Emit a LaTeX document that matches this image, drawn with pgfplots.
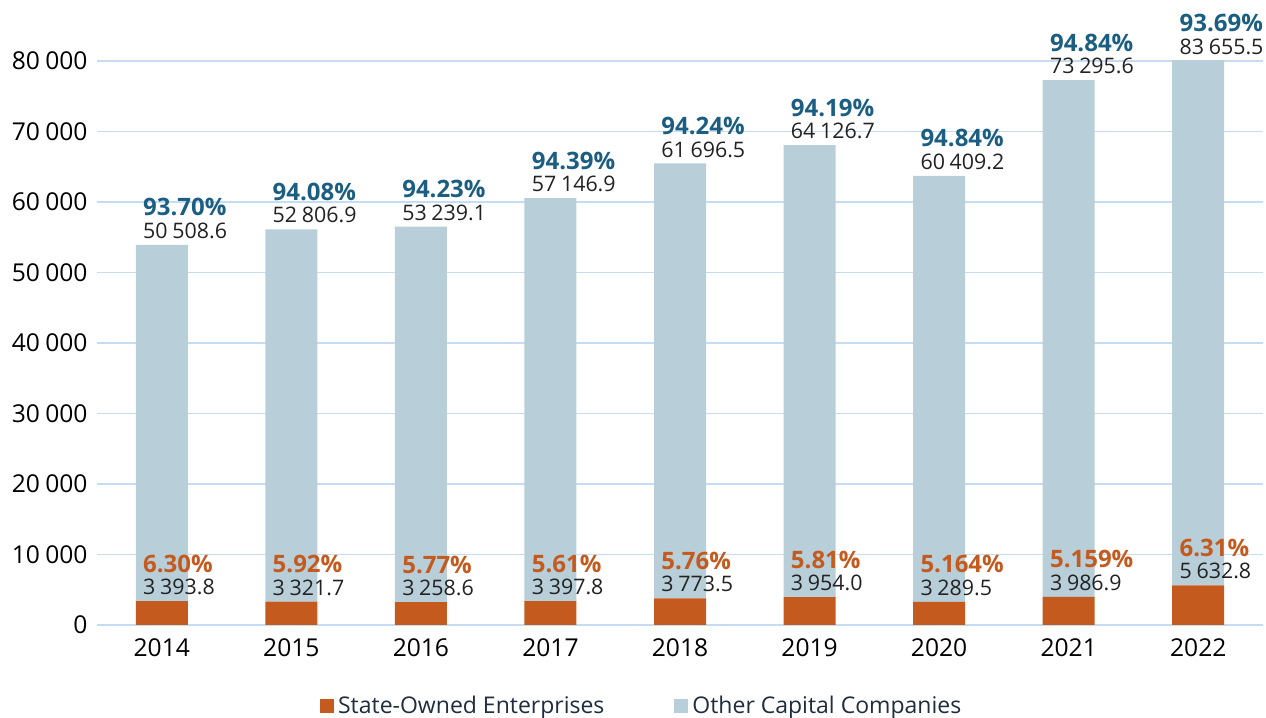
\documentclass[border=0pt]{standalone}
\usepackage{fontspec}
\setmainfont{Open Sans}
\usepackage{pgfplots}
\pgfplotsset{compat=1.18}
\definecolor{soe}{HTML}{C45A1D}
\definecolor{oth}{HTML}{B8CED9}
\definecolor{pctblue}{HTML}{1B5E82}
\definecolor{gridc}{HTML}{C6DCF2}
\definecolor{valc}{HTML}{222222}
\definecolor{legc}{HTML}{1F2D3D}
\tikzset{
  vallab/.style={anchor=base west, xshift=-9.5pt, yshift=3.2pt, inner sep=0pt,
    font=\fontsize{10.7}{12}\selectfont, text=valc},
  pctlab/.style={anchor=base west, xshift=-9.5pt, yshift=14.5pt, inner sep=0pt,
    font=\fontsize{12}{13}\selectfont\bfseries},
}
\begin{document}
\begin{tikzpicture}
\begin{axis}[
  scale only axis, width=583pt, height=282pt,
  xmin=-0.5, xmax=8.5, ymin=0, ymax=80000,
  enlargelimits=false,
  ybar stacked, bar width=26pt,
  clip mode=individual,
  axis line style={draw=none},
  major tick length=0pt,
  ytick={0,10000,...,80000},
  ymajorgrids, grid style={gridc, line width=0.9pt},
  xtick={0,...,8},
  xticklabels={2014,2015,2016,2017,2018,2019,2020,2021,2022},
  /pgf/number format/assume math mode=true,
  /pgf/number format/1000 sep={\hspace{0.22em}},
  scaled y ticks=false,
  tick label style={font=\fontsize{12.3}{14}\selectfont, text=black},
  yticklabel style={xshift=-1.2pt},
  xticklabel style={yshift=-3.2pt},
  legend style={at={(0.468,0)}, anchor=center, yshift=-40.5pt, draw=none,
    font=\fontsize{11.5}{13}\selectfont, text=legc,
    /tikz/every even column/.append style={column sep=33pt}},
  legend columns=2,
]
\addplot[fill=soe, draw=none,
  legend image code/.code={\fill[soe] (0pt,-3.5pt) rectangle (7pt,3.5pt);}]
  coordinates {(0,3393.8) (1,3321.7) (2,3258.6) (3,3397.8) (4,3773.5) (5,3954.0) (6,3289.5) (7,3986.9) (8,5632.8)};
\addlegendentry{State-Owned Enterprises}
\addplot[fill=oth, draw=none,
  legend image code/.code={\fill[oth] (0pt,-3.5pt) rectangle (7pt,3.5pt);}]
  coordinates {(0,50508.6) (1,52806.9) (2,53239.1) (3,57146.9) (4,61696.5) (5,64126.7) (6,60409.2) (7,73295.6) (8,83655.5)};
\addlegendentry{Other Capital Companies}

% anchor points: top of each stack (capped at the axis top) and top of the SOE part
\coordinate (t0) at (axis cs:0,53902.4);
\coordinate (t1) at (axis cs:1,56128.6);
\coordinate (t2) at (axis cs:2,56497.7);
\coordinate (t3) at (axis cs:3,60544.7);
\coordinate (t4) at (axis cs:4,65470.0);
\coordinate (t5) at (axis cs:5,68080.7);
\coordinate (t6) at (axis cs:6,63698.7);
\coordinate (t7) at (axis cs:7,77282.5);
\coordinate (t8) at (axis cs:8,80000);
\coordinate (s0) at (axis cs:0,3393.8);
\coordinate (s1) at (axis cs:1,3321.7);
\coordinate (s2) at (axis cs:2,3258.6);
\coordinate (s3) at (axis cs:3,3397.8);
\coordinate (s4) at (axis cs:4,3773.5);
\coordinate (s5) at (axis cs:5,3954.0);
\coordinate (s6) at (axis cs:6,3289.5);
\coordinate (s7) at (axis cs:7,3986.9);
\coordinate (s8) at (axis cs:8,5632.8);
\coordinate (bbsw) at (rel axis cs:0,0);
\coordinate (bbne) at (rel axis cs:1,1);
\end{axis}
% top labels
\node[pctlab, text=pctblue] at (t0) {93.70\%};
\node[vallab] at (t0) {50\hspace{0.22em}508.6};
\node[pctlab, text=pctblue] at (t1) {94.08\%};
\node[vallab] at (t1) {52\hspace{0.22em}806.9};
\node[pctlab, text=pctblue] at (t2) {94.23\%};
\node[vallab] at (t2) {53\hspace{0.22em}239.1};
\node[pctlab, text=pctblue] at (t3) {94.39\%};
\node[vallab] at (t3) {57\hspace{0.22em}146.9};
\node[pctlab, text=pctblue] at (t4) {94.24\%};
\node[vallab] at (t4) {61\hspace{0.22em}696.5};
\node[pctlab, text=pctblue] at (t5) {94.19\%};
\node[vallab] at (t5) {64\hspace{0.22em}126.7};
\node[pctlab, text=pctblue] at (t6) {94.84\%};
\node[vallab] at (t6) {60\hspace{0.22em}409.2};
\node[pctlab, text=pctblue] at (t7) {94.84\%};
\node[vallab] at (t7) {73\hspace{0.22em}295.6};
\node[pctlab, text=pctblue] at (t8) {93.69\%};
\node[vallab] at (t8) {83\hspace{0.22em}655.5};
% bottom labels
\node[pctlab, text=soe] at (s0) {6.30\%};
\node[vallab] at (s0) {3\hspace{0.22em}393.8};
\node[pctlab, text=soe] at (s1) {5.92\%};
\node[vallab] at (s1) {3\hspace{0.22em}321.7};
\node[pctlab, text=soe] at (s2) {5.77\%};
\node[vallab] at (s2) {3\hspace{0.22em}258.6};
\node[pctlab, text=soe] at (s3) {5.61\%};
\node[vallab] at (s3) {3\hspace{0.22em}397.8};
\node[pctlab, text=soe] at (s4) {5.76\%};
\node[vallab] at (s4) {3\hspace{0.22em}773.5};
\node[pctlab, text=soe] at (s5) {5.81\%};
\node[vallab] at (s5) {3\hspace{0.22em}954.0};
\node[pctlab, text=soe] at (s6) {5.164\%};
\node[vallab] at (s6) {3\hspace{0.22em}289.5};
\node[pctlab, text=soe] at (s7) {5.159\%};
\node[vallab] at (s7) {3\hspace{0.22em}986.9};
\node[pctlab, text=soe] at (s8) {6.31\%};
\node[vallab] at (s8) {5\hspace{0.22em}632.8};
\pgfresetboundingbox
\path (bbsw) ++(-48.5pt,-46.5pt) coordinate (a);
\path (bbne) ++(1.5pt,30.5pt) coordinate (b);
\path[use as bounding box] (a) rectangle (b);
\end{tikzpicture}
\end{document}
